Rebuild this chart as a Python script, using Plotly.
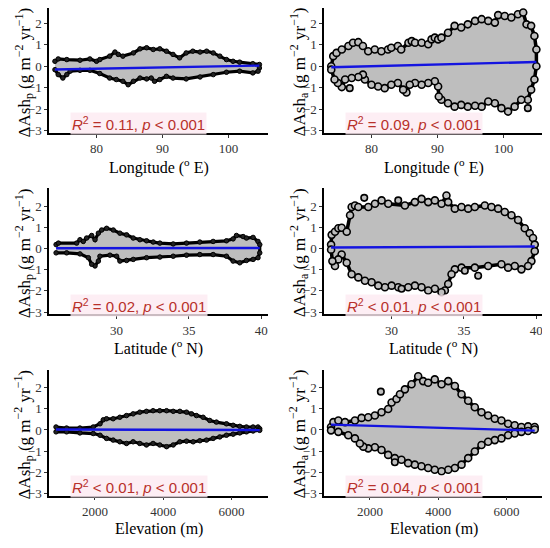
import plotly.graph_objects as go

# ---- values (outer envelope of each point cloud) ----

# (a) ΔAsh_p vs longitude
lon_p_up_x = [73.7, 74.2, 75.5, 77.5, 79.0, 80.0, 80.5, 82.0, 82.8, 83.3, 84.0, 85.6, 86.6, 87.6, 88.6,
              89.6, 90.6, 91.6, 92.6, 93.6, 94.6, 95.7, 96.7, 97.7, 98.7, 99.7, 100.7, 101.7, 103.7, 104.7]
lon_p_up_y = [0.23, 0.34, 0.31, 0.28, 0.34, 0.23, 0.31, 0.47, 0.66, 0.55, 0.47, 0.62, 0.81, 0.86, 0.78,
              0.81, 0.70, 0.55, 0.39, 0.62, 0.70, 0.66, 0.70, 0.62, 0.47, 0.31, 0.23, 0.19, 0.12, 0.08]
lon_p_lo_x = [73.7, 74.2, 74.9, 75.5, 76.0, 77.5, 79.0, 80.5, 82.0, 83.0, 84.0, 84.8, 85.6, 86.6,
              87.6, 88.3, 88.8, 89.6, 90.6, 91.6, 93.6, 95.7, 97.7, 99.7, 101.7, 103.7, 104.5, 104.7]
lon_p_lo_y = [-0.16, -0.39, -0.55, -0.39, -0.23, -0.19, -0.19, -0.34, -0.55, -0.62, -0.70, -0.86, -0.70, -0.55,
              -0.59, -0.55, -0.70, -0.62, -0.47, -0.55, -0.59, -0.50, -0.39, -0.28, -0.23, -0.31, -0.23, -0.08]
lon_p_out_x = []
lon_p_out_y = []
lon_p_fit_x = [73.7, 104.7]
lon_p_fit_y = [-0.15, 0.03]

# (b) ΔAsh_a vs longitude
lon_a_up_x = [73.9, 74.2, 74.7, 75.5, 76.5, 77.2, 78.0, 78.7, 79.5, 80.5, 81.5, 82.5, 83.0, 84.0,
              84.5, 85.6, 86.1, 86.6, 87.6, 88.6, 89.1, 89.6, 90.1, 90.6, 91.6, 92.6, 93.6, 94.6,
              95.7, 96.7, 97.7, 98.7, 99.2, 100.2, 101.2, 102.2, 103.0, 103.5, 104.2, 104.7, 105.0]
lon_a_up_y = [0.0, 0.47, 0.62, 0.78, 0.94, 1.09, 1.12, 0.94, 0.70, 0.78, 0.70, 0.78, 0.86, 0.94,
              0.78, 1.09, 1.17, 1.09, 1.09, 1.02, 1.25, 1.33, 1.25, 1.33, 1.56, 1.88, 1.80, 1.95,
              2.11, 2.19, 2.11, 2.03, 2.38, 2.34, 2.27, 2.42, 2.50, 1.95, 1.88, 1.41, 0.78]
lon_a_lo_x = [73.9, 74.4, 74.9, 75.5, 76.0, 77.0, 78.0, 78.7, 79.0, 80.0, 81.0, 82.0, 83.0, 84.0,
              84.8, 85.3, 85.8, 86.6, 87.6, 88.6, 89.6, 90.1, 90.2, 90.6, 91.6, 92.6, 93.6, 94.6,
              95.7, 96.7, 97.7, 98.7, 99.7, 100.7, 101.7, 102.7, 103.7, 104.2, 104.7, 105.0]
lon_a_lo_y = [-0.16, -0.62, -0.78, -0.97, -0.62, -0.55, -0.50, -0.39, -0.62, -0.86, -0.94, -1.02, -0.86, -0.78,
              -1.09, -1.22, -0.86, -0.78, -0.86, -0.78, -0.70, -0.94, -1.41, -1.56, -1.72, -1.88, -1.80, -1.88,
              -1.84, -1.88, -1.64, -1.72, -1.95, -2.11, -1.88, -1.56, -1.56, -1.09, -0.62, 0.0]
lon_a_out_x = [76.7, 103.7]
lon_a_out_y = [-1.02, -1.95]
lon_a_fit_x = [73.9, 105.0]
lon_a_fit_y = [-0.05, 0.20]

# (c) ΔAsh_p vs latitude
lat_p_up_x = [25.82, 25.98, 27.24, 27.47, 27.70, 27.93, 28.28, 28.51, 28.74, 28.97, 29.31, 29.77, 30.23,
              30.69, 31.15, 31.61, 32.07, 32.53, 32.99, 33.91, 34.83, 35.75, 36.67, 37.59, 38.05, 38.28,
              38.74, 38.97, 39.43, 39.77, 39.89]
lat_p_up_y = [0.19, 0.26, 0.26, 0.42, 0.34, 0.50, 0.62, 0.42, 0.73, 0.88, 0.96, 0.88, 0.73,
              0.65, 0.50, 0.42, 0.37, 0.31, 0.26, 0.22, 0.26, 0.31, 0.34, 0.37, 0.46, 0.62,
              0.57, 0.50, 0.53, 0.34, 0.19]
lat_p_lo_x = [25.82, 26.55, 27.47, 28.05, 28.28, 28.51, 28.74, 28.85, 29.54, 30.0, 30.23, 30.69, 31.15,
              32.07, 32.99, 33.91, 34.83, 35.75, 36.67, 37.59, 38.05, 38.51, 38.97, 39.43, 39.77, 39.89]
lat_p_lo_y = [-0.20, -0.20, -0.25, -0.43, -0.74, -0.82, -0.59, -0.36, -0.31, -0.36, -0.59, -0.56, -0.51,
              -0.43, -0.40, -0.36, -0.31, -0.28, -0.28, -0.36, -0.59, -0.67, -0.56, -0.51, -0.43, -0.20]
lat_p_out_x = []
lat_p_out_y = []
lat_p_fit_x = [25.82, 39.89]
lat_p_fit_y = [0.02, 0.03]

# (d) ΔAsh_a vs latitude
lat_a_up_x = [25.82, 25.86, 26.09, 26.32, 26.55, 26.90, 27.13, 27.24, 27.47, 27.70, 28.39, 28.85, 29.31,
              29.77, 30.92, 31.61, 32.07, 32.53, 32.99, 33.45, 33.79, 33.91, 34.37, 34.83, 35.29, 35.75,
              36.44, 36.90, 37.36, 37.82, 38.28, 38.74, 39.20, 39.54, 39.77, 39.89]
lat_a_up_y = [0.19, 0.65, 0.80, 0.96, 0.99, 0.80, 1.58, 1.97, 2.04, 1.97, 1.97, 2.12, 2.28,
              2.12, 2.04, 2.20, 2.35, 2.20, 2.28, 2.12, 2.51, 2.20, 1.89, 1.97, 1.89, 1.97,
              2.04, 1.97, 1.89, 1.73, 1.58, 1.35, 0.96, 0.73, 0.50, 0.19]
lat_a_lo_x = [25.82, 25.91, 26.09, 26.32, 26.55, 26.90, 27.24, 27.70, 28.16, 28.62, 29.08, 29.54, 30.0,
              30.46, 31.15, 31.61, 32.07, 32.53, 32.99, 33.45, 33.68, 33.91, 34.14, 34.37, 34.83, 35.75,
              36.67, 37.59, 38.05, 38.51, 38.97, 39.43, 39.66, 39.89]
lat_a_lo_y = [-0.05, -0.59, -0.82, -0.51, -0.28, -0.67, -1.21, -1.36, -1.52, -1.59, -1.75, -1.83, -1.75,
              -1.83, -1.83, -1.75, -1.83, -1.98, -1.90, -2.06, -1.98, -1.67, -1.21, -0.98, -0.90, -0.90,
              -0.82, -0.74, -0.90, -0.82, -0.98, -0.82, -0.59, -0.12]
lat_a_out_x = [28.11, 30.46, 30.69, 35.06, 35.98]
lat_a_out_y = [2.40, 2.28, -1.90, -1.05, -1.28]
lat_a_fit_x = [25.82, 39.89]
lat_a_fit_y = [0.05, 0.10]

# (e) ΔAsh_p vs elevation
ele_p_up_x = [860, 1170, 1560, 1950, 2150, 2245, 2340, 2535, 2730, 2925, 3120, 3315, 3510, 3705, 3900,
              4100, 4295, 4490, 4685, 4830, 4975, 5170, 5365, 5560, 5855, 6050, 6245, 6440, 6635, 6780, 6830]
ele_p_up_y = [0.14, 0.09, 0.09, 0.14, 0.29, 0.48, 0.53, 0.53, 0.60, 0.68, 0.76, 0.84, 0.88, 0.91, 0.91,
              0.91, 0.88, 0.88, 0.84, 0.76, 0.68, 0.60, 0.45, 0.37, 0.29, 0.22, 0.17, 0.14, 0.14, 0.14, 0.06]
ele_p_lo_x = [860, 1170, 1560, 1950, 2150, 2340, 2535, 2730, 2925, 3120, 3315, 3510, 3705, 3900, 4100,
              4295, 4490, 4685, 4880, 5075, 5270, 5465, 5660, 5855, 6050, 6245, 6440, 6635, 6830]
ele_p_lo_y = [-0.09, -0.09, -0.14, -0.17, -0.25, -0.40, -0.48, -0.56, -0.64, -0.56, -0.64, -0.71, -0.64, -0.71, -0.79,
              -0.71, -0.56, -0.53, -0.56, -0.51, -0.48, -0.40, -0.33, -0.25, -0.20, -0.14, -0.09, -0.05, -0.02]
ele_p_out_x = []
ele_p_out_y = []
ele_p_fit_x = [860, 6830]
ele_p_fit_y = [0.02, 0.0]

# (f) ΔAsh_a vs elevation
ele_a_up_x = [860, 930, 1075, 1270, 1560, 1755, 1950, 2145, 2340, 2535, 2635, 2780, 2880, 3025, 3220,
              3415, 3560, 3705, 3900, 4100, 4295, 4490, 4685, 4880, 5075, 5270, 5465, 5660, 5855, 6050,
              6245, 6440, 6635, 6830]
ele_a_up_y = [0.14, 0.37, 0.45, 0.37, 0.45, 0.57, 0.60, 0.68, 0.84, 0.99, 1.30, 1.46, 1.69, 1.92, 2.16,
              2.54, 2.31, 2.23, 2.39, 2.16, 2.31, 2.08, 1.69, 1.38, 1.07, 0.84, 0.68, 0.53, 0.45, 0.29,
              0.22, 0.14, 0.17, 0.14]
ele_a_lo_x = [860, 1075, 1365, 1560, 1705, 1805, 1950, 2145, 2340, 2535, 2730, 2925, 3120, 3315, 3510,
              3705, 3900, 4100, 4295, 4490, 4685, 4880, 5075, 5270, 5465, 5660, 5855, 6050, 6245, 6440,
              6635, 6830]
ele_a_lo_y = [-0.02, -0.09, -0.25, -0.40, -0.64, -0.79, -0.87, -0.82, -0.95, -1.18, -1.33, -1.41, -1.57, -1.64, -1.72,
              -1.80, -1.88, -1.95, -1.88, -1.80, -1.64, -1.33, -1.02, -0.71, -0.56, -0.48, -0.40, -0.25, -0.17, -0.09,
              -0.05, 0.02]
ele_a_out_x = [2320, 2730]
ele_a_out_y = [1.81, -1.53]
ele_a_fit_x = [860, 6830]
ele_a_fit_y = [0.25, -0.03]

x_titles = ["Longitude (<sup>o</sup> E)", "Latitude (<sup>o</sup> N)", "Elevation (m)"]
x_ranges = [[72.8, 106.0], [25.33, 40.46], [654, 7073]]
x_ticks = [[80, 90, 100], [30, 35, 40], [2000, 4000, 6000]]
y_tops = [2.71, 2.85, 2.85]
y_subs = ["p", "a"]
stats = ["<i>R</i><sup>2</sup> = 0.11, <i>p</i> &lt; 0.001",
         "<i>R</i><sup>2</sup> = 0.09, <i>p</i> &lt; 0.001",
         "<i>R</i><sup>2</sup> = 0.02, <i>p</i> &lt; 0.001",
         "<i>R</i><sup>2</sup> &lt; 0.01, <i>p</i> &lt; 0.001",
         "<i>R</i><sup>2</sup> &lt; 0.01, <i>p</i> &lt; 0.001",
         "<i>R</i><sup>2</sup> = 0.04, <i>p</i> &lt; 0.001"]

panels = [
    (lon_p_up_x, lon_p_up_y, lon_p_lo_x, lon_p_lo_y, lon_p_out_x, lon_p_out_y, lon_p_fit_x, lon_p_fit_y),
    (lon_a_up_x, lon_a_up_y, lon_a_lo_x, lon_a_lo_y, lon_a_out_x, lon_a_out_y, lon_a_fit_x, lon_a_fit_y),
    (lat_p_up_x, lat_p_up_y, lat_p_lo_x, lat_p_lo_y, lat_p_out_x, lat_p_out_y, lat_p_fit_x, lat_p_fit_y),
    (lat_a_up_x, lat_a_up_y, lat_a_lo_x, lat_a_lo_y, lat_a_out_x, lat_a_out_y, lat_a_fit_x, lat_a_fit_y),
    (ele_p_up_x, ele_p_up_y, ele_p_lo_x, ele_p_lo_y, ele_p_out_x, ele_p_out_y, ele_p_fit_x, ele_p_fit_y),
    (ele_a_up_x, ele_a_up_y, ele_a_lo_x, ele_a_lo_y, ele_a_out_x, ele_a_out_y, ele_a_fit_x, ele_a_fit_y),
]

# page body adds an 8 px margin, so work in page pixels minus 8
W, H, OFF = 550, 548, 8
col_px = [(49, 268), (324, 543)]
row_px = [(8, 134), (190, 317), (373, 500)]


def px(p):
    return (p - OFF) / W


def py(p):
    return 1 - (p - OFF) / H


serif = "Liberation Serif"
sans = "Liberation Sans"
gray = "#bebebe"

fig = go.Figure()
layout = dict(width=W, height=H, margin=dict(l=0, r=0, t=0, b=0),
              paper_bgcolor="white", plot_bgcolor="white", showlegend=False)
annotations = []

for i, (ux, uy, lx, ly, ox, oy, fx, fy) in enumerate(panels):
    r, c = divmod(i, 2)
    n = i + 1
    xa = "x" if n == 1 else "x%d" % n
    ya = "y" if n == 1 else "y%d" % n
    # left column: dense edge reads as a thick dark contour; right: open circles
    if c == 0:
        mk = dict(size=4.5, color="#222", line=dict(color="black", width=1))
        lw = 3.2
    else:
        mk = dict(size=7, color=gray, line=dict(color="black", width=1.6))
        lw = 3.5

    # cloud envelope: upper edge then lower edge back
    fig.add_trace(go.Scatter(
        x=ux + lx[::-1], y=uy + ly[::-1], xaxis=xa, yaxis=ya,
        mode="lines+markers", fill="toself", fillcolor=gray,
        line=dict(color="black", width=lw), marker=mk, hoverinfo="skip"))
    if ox:
        fig.add_trace(go.Scatter(
            x=ox, y=oy, xaxis=xa, yaxis=ya, mode="markers",
            marker=dict(size=6.5, color=gray, line=dict(color="black", width=1.6))))
    fig.add_trace(go.Scatter(
        x=fx, y=fy, xaxis=xa, yaxis=ya, mode="lines",
        line=dict(color="#1414e0", width=2.4)))

    x0, x1 = col_px[c]
    y0, y1 = row_px[r]
    layout["xaxis" if n == 1 else "xaxis%d" % n] = dict(
        domain=[px(x0), px(x1)], anchor=ya, range=x_ranges[r], tickvals=x_ticks[r],
        showline=True, linecolor="black", linewidth=1.5, ticks="outside", ticklen=3,
        tickcolor="#333", showgrid=False, zeroline=False,
        tickfont=dict(family=serif, size=13, color="#333"))
    layout["yaxis" if n == 1 else "yaxis%d" % n] = dict(
        domain=[py(y1), min(1.0, py(y0))], anchor=xa, range=[-3.1, y_tops[r]],
        tickvals=[-3, -2, -1, 0, 1, 2],
        showline=True, linecolor="black", linewidth=1.5, ticks="outside", ticklen=3,
        tickcolor="#333", showgrid=False, zeroline=False,
        tickfont=dict(family=serif, size=13, color="#333"))

    # axis titles
    annotations.append(dict(
        text=x_titles[r], x=px((x0 + x1) / 2), y=py(y1 + 34), xref="paper", yref="paper",
        xanchor="center", yanchor="middle",
        showarrow=False, font=dict(family=serif, size=16, color="black")))
    annotations.append(dict(
        text="ΔAsh<sub>%s</sub> (g m<sup>−2</sup> yr<sup>−1</sup>)" % y_subs[c],
        x=px(24 + 275 * c), y=py((y0 + y1) / 2 + 2), xref="paper", yref="paper",
        xanchor="center", yanchor="middle",
        textangle=-90, showarrow=False, font=dict(family=serif, size=17, color="black")))
    # statistics label
    annotations.append(dict(
        text=stats[i], x=px(x0 + 21), y=py(y1 - 9), xref="paper", yref="paper",
        xanchor="left", yanchor="middle", showarrow=False, bgcolor="rgba(253,234,241,0.8)",
        borderpad=1, font=dict(family=sans, size=15, color="#b8302a")))

layout["annotations"] = annotations
fig.update_layout(**layout)

fig.write_html("out.html")
